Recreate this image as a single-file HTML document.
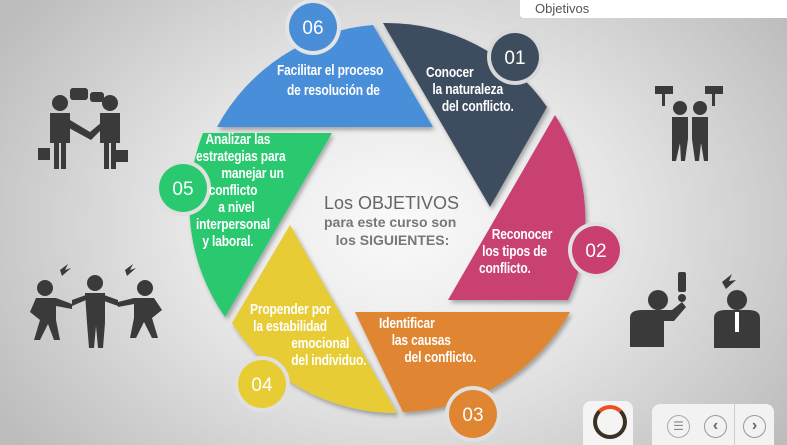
<!DOCTYPE html>
<html><head><meta charset="utf-8"><style>
body{margin:0;width:787px;height:445px;overflow:hidden;background:radial-gradient(ellipse 480px 360px at 400px 225px,#fafafa 0%,#e6e6e6 45%,#bcbcbc 100%);font-family:"Liberation Sans",sans-serif;position:relative}
.t{position:absolute;color:#fff;font-weight:bold;font-size:15px;line-height:17px;white-space:nowrap;transform:scaleX(0.8);transform-origin:0 0;letter-spacing:-0.2px}
</style></head><body>
<div style="position:absolute;left:520px;top:0;width:267px;height:18px;background:#fff;border-radius:0 0 0 4px;font-size:13px;color:#555;padding-left:15px;box-sizing:border-box;line-height:18px">Objetivos</div>
<svg width="787" height="445" style="position:absolute;left:0;top:0">
<defs><filter id="s" x="-20%" y="-20%" width="140%" height="140%"><feDropShadow dx="2" dy="3" stdDeviation="2" flood-opacity="0.3"/></filter></defs>
<g filter="url(#s)">
<path d="M217,127 A195,195 0 0 1 373,25 L433,127 Z" fill="#4a8ed8"/>
<path d="M383,23 A195,195 0 0 1 547,107 L490,207 Z" fill="#3e4d5e"/>
<path d="M555,115 A195,195 0 0 1 568,300 L448,300 Z" fill="#c93f72"/>
<path d="M570,312 A195,195 0 0 1 403,412 L355,312 Z" fill="#e08532"/>
<path d="M397,413 A195,195 0 0 1 232,323 L290,225 Z" fill="#e8cc34"/>
<path d="M225,317 A195,195 0 0 1 203,133 L332,133 Z" fill="#2ac96f"/>
</g>
<g font-family="Liberation Sans,sans-serif" font-size="19" fill="#fff" text-anchor="middle">
<circle cx="313" cy="27" r="28" fill="#e4e4e4"/><circle cx="313" cy="27" r="24" fill="#4a8ed8"/><text x="313" y="34">06</text>
<circle cx="515" cy="57" r="28" fill="#d8d8d8"/><circle cx="515" cy="57" r="24" fill="#3e4d5e"/><text x="515" y="64">01</text>
<circle cx="596" cy="250" r="28" fill="#e0e0e0"/><circle cx="596" cy="250" r="24" fill="#c93f72"/><text x="596" y="257">02</text>
<circle cx="473" cy="414" r="28" fill="#e0e0e0"/><circle cx="473" cy="414" r="24" fill="#e08532"/><text x="473" y="421">03</text>
<circle cx="262" cy="384" r="28" fill="#e0e0e0"/><circle cx="262" cy="384" r="24" fill="#e8cc34"/><text x="262" y="391">04</text>
<circle cx="183" cy="188" r="28" fill="#e0e0e0"/><circle cx="183" cy="188" r="24" fill="#2ac96f"/><text x="183" y="195">05</text>
</g>
<g fill="#3a3a3a">
<circle cx="60" cy="103" r="8"/><path d="M50,113 h20 v30 h-4 v26 h-5 v-26 h-2 v26 h-5 v-26 h-4z"/><rect x="38" y="148" width="12" height="12"/>
<circle cx="110" cy="103" r="8"/><path d="M100,113 h20 v30 h-4 v26 h-5 v-26 h-2 v26 h-5 v-26 h-4z"/><rect x="116" y="150" width="12" height="12"/>
<path d="M70,120 l20,12 l12,-10 l3,4 l-14,14 l-22,-12z"/>
<rect x="70" y="88" width="18" height="12" rx="3"/><rect x="90" y="92" width="14" height="10" rx="3"/>
<rect x="655" y="86" width="18" height="8"/><rect x="705" y="86" width="18" height="8"/><rect x="662" y="94" width="3" height="12"/><rect x="712" y="94" width="3" height="12"/>
<circle cx="680" cy="108" r="7"/><path d="M672,117 h16 v22 l-3,22 h-4 l-1,-18 l-4,18 h-4z"/>
<circle cx="700" cy="108" r="7"/><path d="M692,117 h16 v44 h-4 l-3,-18 l-2,18 h-4 l-3,-22z"/>
<circle cx="45" cy="288" r="8"/><path d="M36,298 h20 l16,6 v5 l-16,-3 v14 l4,20 h-6 l-6,-16 l-8,16 h-6 l6,-20 l-10,-8z"/>
<circle cx="95" cy="283" r="8"/><path d="M85,293 h20 v30 l-2,25 h-5 l-2,-22 l-2,22 h-5 l-2,-25z"/><path d="M72,300 l14,-5 v5 l-14,6z M104,295 l14,5 v6 l-14,-5z"/>
<circle cx="145" cy="288" r="8"/><path d="M134,298 h20 l8,12 l-10,8 l6,20 h-6 l-8,-16 l-8,16 h-6 l4,-20 v-14 l-16,3 v-5z"/>
<path d="M60,270 l8,-6 l-3,6 l6,-2 l-9,8z M125,270 l8,-6 l-3,6 l6,-2 l-9,8z"/>
<circle cx="658" cy="300" r="10"/><path d="M630,318 q0,-8 12,-8 h30 l10,-8 l4,5 l-12,14 h-10 v26 h-34z"/>
<rect x="678" y="272" width="8" height="20" rx="2"/><circle cx="682" cy="298" r="4"/>
<circle cx="737" cy="300" r="10"/><path d="M714,318 q0,-8 12,-8 h22 q12,0 12,8 v30 h-46z"/>
<path d="M722,282 l10,-8 l-3,7 l7,-1 l-10,9z"/>
</g>
<g fill="#fff"><rect x="735" y="312" width="4" height="20"/></g>
</svg>
<div class="t" style="left:277px;top:62px;">Facilitar el proceso</div>
<div class="t" style="left:287px;top:82px;">de resolución de</div>
<div class="t" style="left:426px;top:64px;">Conocer<br>&nbsp;&nbsp;la naturaleza<br>&nbsp;&nbsp;&nbsp;&nbsp;&nbsp;del conflicto.</div>
<div class="t" style="left:479px;top:226px;">&nbsp;&nbsp;&nbsp;&nbsp;Reconocer<br>&nbsp;los tipos de<br>conflicto.</div>
<div class="t" style="left:379px;top:315px;">Identificar<br>&nbsp;&nbsp;&nbsp;&nbsp;las causas<br>&nbsp;&nbsp;&nbsp;&nbsp;&nbsp;&nbsp;&nbsp;&nbsp;del conflicto.</div>
<div class="t" style="left:250px;top:301px;">Propender por<br>&nbsp;la estabilidad<br>&nbsp;&nbsp;&nbsp;&nbsp;&nbsp;&nbsp;&nbsp;&nbsp;&nbsp;&nbsp;&nbsp;&nbsp;&nbsp;emocional<br>&nbsp;&nbsp;&nbsp;&nbsp;&nbsp;&nbsp;&nbsp;&nbsp;&nbsp;&nbsp;&nbsp;&nbsp;&nbsp;del individuo.</div>
<div class="t" style="left:196px;top:131px;">&nbsp;&nbsp;&nbsp;Analizar las<br>estrategias para<br>&nbsp;&nbsp;&nbsp;&nbsp;&nbsp;&nbsp;&nbsp;&nbsp;manejar un<br>&nbsp;&nbsp;&nbsp;&nbsp;conflicto<br>&nbsp;&nbsp;&nbsp;&nbsp;&nbsp;&nbsp;&nbsp;a nivel<br>interpersonal<br>&nbsp;&nbsp;y laboral.</div>
<div style="position:absolute;left:324px;top:193px;color:#666;font-size:18px;line-height:20px">Los OBJETIVOS</div>
<div style="position:absolute;left:324px;top:213px;color:#777;font-size:14px;line-height:18px;font-weight:bold">para este curso son<br>&nbsp;&nbsp;&nbsp;los SIGUIENTES:</div>
<div style="position:absolute;left:583px;top:401px;width:50px;height:44px;background:#f4f4f4;border-radius:8px 8px 0 0"></div>
<div style="position:absolute;left:593px;top:405px;width:26px;height:26px;border:4px solid #3a3024;border-top-color:#f05020;border-radius:50%"></div>
<div style="position:absolute;left:652px;top:404px;width:122px;height:41px;background:#f2f2f2;border-radius:8px 8px 0 0"></div>
<div style="position:absolute;left:734px;top:404px;width:1px;height:41px;background:#ccc"></div>
<div style="position:absolute;left:667px;top:415px;width:21px;height:21px;border:1.5px solid #aaa;border-radius:50%;color:#888;font-size:12px;text-align:center;line-height:21px">☰</div>
<div style="position:absolute;left:704px;top:415px;width:21px;height:21px;border:1.5px solid #999;border-radius:50%;color:#666;font-size:16px;font-weight:bold;text-align:center;line-height:20px">‹</div>
<div style="position:absolute;left:743px;top:415px;width:21px;height:21px;border:1.5px solid #999;border-radius:50%;color:#666;font-size:16px;font-weight:bold;text-align:center;line-height:20px">›</div>
</body></html>
